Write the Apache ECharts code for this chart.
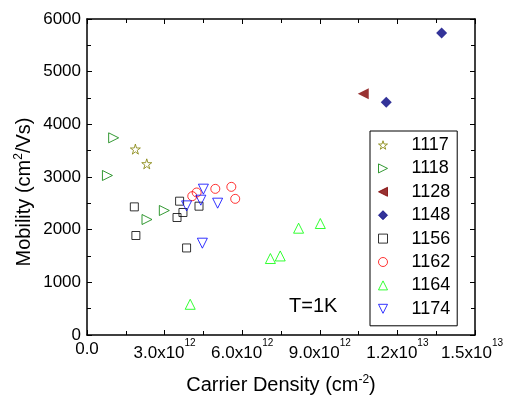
<!DOCTYPE html>
<html>
<head>
<meta charset="utf-8">
<script src="https://cdn.jsdelivr.net/npm/echarts@6/dist/echarts.min.js"></script>
<style>html,body{margin:0;padding:0;background:#fff}#chart{width:505px;height:398px}</style>
</head>
<body>
<div id="chart"></div>
<script>
// 每个样品: [载流子浓度 cm^-2, 迁移率 cm^2/Vs], T=1K
const s1117 = [[1.87e12, 3529], [2.31e12, 3250]]
const s1118 = [[1.03e12, 3744], [0.79e12, 3029], [2.32e12, 2193], [2.99e12, 2364]]
const s1128 = [[10.68e12, 4580]]
const s1148 = [[13.71e12, 5734], [11.57e12, 4417]]
const s1156 = [[1.83e12, 2433], [1.89e12, 1889], [3.48e12, 2231], [3.71e12, 2326], [3.58e12, 2541], [4.33e12, 2446], [3.85e12, 1653]]
const s1162 = [[4.07e12, 2636], [4.24e12, 2706], [4.96e12, 2775], [5.58e12, 2813], [5.73e12, 2585]]
const s1164 = [[3.99e12, 583], [7.09e12, 1452], [7.47e12, 1501], [8.18e12, 2028], [9.02e12, 2117]]
const s1174 = [[3.85e12, 2452], [4.50e12, 2769], [4.40e12, 2560], [5.05e12, 2503], [4.46e12, 1743]]

// x 轴刻度: [底数, 指数]
const xTickLabels = [['0.0', ''], ['3.0x10', '12'], ['6.0x10', '12'], ['9.0x10', '12'], ['1.2x10', '13'], ['1.5x10', '13']]

const FONT = 'Liberation Sans, Arial, sans-serif'
// 符号: 空心星 / 三角(右/左/下)
const STAR = 'path://M50,0 L61,35 L98,35 L68,57 L79,91 L50,70 L21,91 L32,57 L2,35 L39,35 Z'
const TRI_R = 'path://M0,0 L10,5 L0,10 Z'
const TRI_L = 'path://M10,0 L0,5 L10,10 Z'
const TRI_D = 'path://M0,0 L10,0 L5,10 Z'

function sc(name, data, color, symbol, size, hollow) {
  return {
    name, type: 'scatter', data, symbol, symbolSize: size,
    itemStyle: hollow
      ? { color: 'rgba(0,0,0,0)', borderColor: color, borderWidth: 1 }
      : { color, borderColor: color, borderWidth: 0 }
  }
}

const chart = echarts.init(document.getElementById('chart'))
const sup = { fontSize: 10, padding: [0, 0, 20, 0], fontFamily: FONT, color: '#000' }
const tick = { show: true, inside: true, length: 5, lineStyle: { color: '#000', width: 1 } }
const minor = { show: true, splitNumber: 2, length: 4, lineStyle: { color: '#000', width: 1 } }
const line = { show: true, onZero: false, lineStyle: { color: '#000', width: 1.5 } }

chart.setOption({
  animation: false,
  grid: { left: 87, right: 30, top: 19, bottom: 63, outerBoundsMode: 'none' },
  xAxis: [{
    type: 'value', min: 0, max: 1.5e13, interval: 3e12, position: 'bottom',
    axisLine: line, axisTick: tick, minorTick: minor, splitLine: { show: false },
    axisLabel: {
      margin: 3, color: '#000', fontSize: 17, fontFamily: FONT,
      formatter: (v) => {
        const i = Math.round(v / 3e12), t = xTickLabels[i]
        if (!t[1]) return `{z|${t[0]}}`
        return `{b|${t[0]}}{${i === xTickLabels.length - 1 ? 'e' : 's'}|${t[1]}}`
      },
      rich: {
        b: { fontSize: 17, fontFamily: FONT, color: '#000' },
        z: { fontSize: 17, fontFamily: FONT, color: '#000', padding: [3, 0, 0, 0] },
        s: sup, e: { ...sup, padding: [0, 6, 20, 0] }
      }
    },
    name: '{n|Carrier Density (cm}{s|-2}{n|)}', nameLocation: 'middle', nameGap: 39, nameMoveOverlap: false,
    nameTextStyle: { rich: { n: { fontSize: 20, fontFamily: FONT, color: '#000' }, s: { ...sup, fontSize: 12, padding: [0, 0, 10, 0] } } }
  }, {
    type: 'value', min: 0, max: 1.5e13, interval: 3e12, position: 'top',
    axisLine: line, axisTick: tick, minorTick: minor, splitLine: { show: false }, axisLabel: { show: false }
  }],
  yAxis: [{
    type: 'value', min: 0, max: 6000, interval: 1000, position: 'left',
    axisLine: line, axisTick: tick, minorTick: minor, splitLine: { show: false },
    axisLabel: { margin: 6, color: '#000', fontSize: 17, fontFamily: FONT, formatter: (v) => String(v) },
    name: '{n|Mobility (cm}{s|2}{n|/Vs)}', nameLocation: 'middle', nameRotate: 90, nameGap: 52, nameMoveOverlap: false,
    nameTextStyle: { padding: [0, 30, 0, 0], rich: { n: { fontSize: 20, fontFamily: FONT, color: '#000' }, s: { ...sup, fontSize: 12, padding: [0, 0, 10, 0] } } }
  }, {
    type: 'value', min: 0, max: 6000, interval: 1000, position: 'right',
    axisLine: line, axisTick: tick, minorTick: minor, splitLine: { show: false }, axisLabel: { show: false }
  }],
  legend: {
    orient: 'vertical', left: 370, top: 131, padding: [5, 7, 8, 8], itemGap: 5.4,
    itemWidth: 9, itemHeight: 9, borderColor: '#000', borderWidth: 1, backgroundColor: '#fff',
    itemStyle: { borderWidth: 1 },
    formatter: (n) => `{a|${n}}`,
    textStyle: { rich: { a: { fontSize: 18, lineHeight: 18, fontFamily: FONT, color: '#000', padding: [0, 0, 0, 19] } } }
  },
  graphic: [{
    type: 'text', left: 289, top: 296,
    style: { text: 'T=1K', fontSize: 20, fontFamily: FONT, fill: '#000' }
  }],
  series: [
    sc('1117', s1117, '#808000', STAR, 10, true),
    sc('1118', s1118, '#008000', TRI_R, 10, true),
    sc('1128', s1128, '#800000', TRI_L, 11, false),
    sc('1148', s1148, '#000080', 'diamond', 11, false),
    sc('1156', s1156, '#000000', 'rect', 8, true),
    sc('1162', s1162, '#ff0000', 'circle', 9, true),
    sc('1164', s1164, '#00ff00', 'triangle', 10, true),
    sc('1174', s1174, '#0000ff', TRI_D, 10, true)
  ]
})
</script>
</body>
</html>
